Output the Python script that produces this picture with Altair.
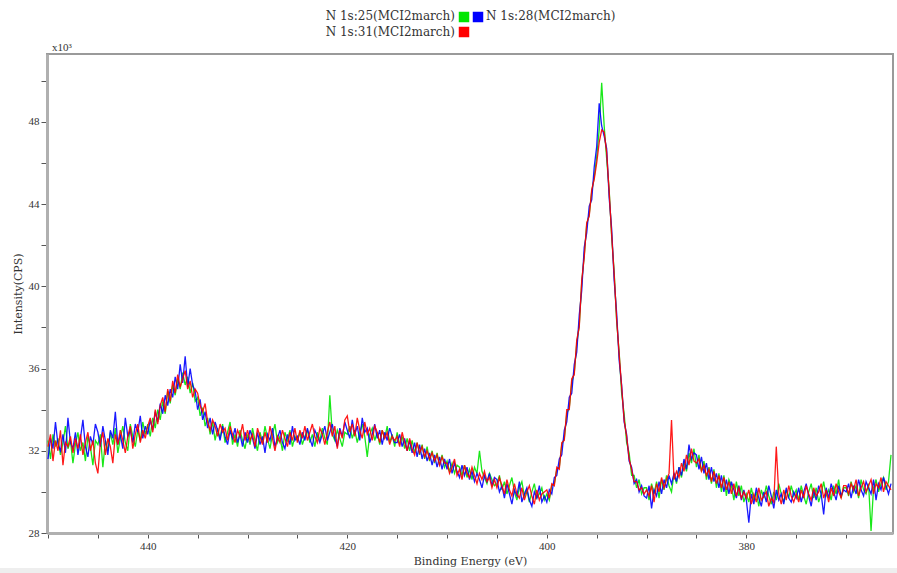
import altair as alt
import pandas as pd

SERIES = ["N 1s:25(MCI2march)", "N 1s:28(MCI2march)", "N 1s:31(MCI2march)"]
COLORS = ["#00e600", "#0000ff", "#ff0000"]

E_START, E_STEP = 450.0, 0.25  # binding energy grid (eV), high to low

# Intensities in units of 10^3 CPS (5 eV per row)
GREEN = [
    32.5, 31.6, 32.8, 32.2, 32.6, 31.8, 32.4, 33.2, 32.1, 32.5, 31.4, 32.3, 32.9, 32.0, 32.4, 31.5, 32.7, 32.2, 31.3, 32.5,
    32.3, 32.8, 31.2, 32.5, 32.0, 32.9, 32.3, 33.1, 31.9, 32.6, 33.2, 32.4, 32.0, 33.3, 32.7, 32.2, 33.0, 32.5, 33.4, 32.8,
    33.3, 32.7, 33.6, 33.1, 34.0, 33.5, 34.4, 33.8, 34.9, 34.3, 35.2, 34.7, 35.5, 35.0, 35.8, 35.2, 35.6, 34.8, 35.3, 34.4,
    34.6, 33.7, 34.1, 33.2, 33.6, 32.8, 33.4, 32.5, 33.1, 32.6, 33.3, 32.4, 32.9, 33.4, 32.3, 32.8, 32.2, 33.0, 32.5, 32.1,
    32.8, 32.3, 33.1, 32.5, 32.0, 32.9, 32.4, 33.2, 32.6, 32.1, 32.8, 33.3, 32.4, 32.7, 32.0, 32.9, 32.5, 33.0, 32.2, 32.7,
    32.5, 32.9, 32.3, 32.7, 33.0, 32.4, 32.8, 32.2, 32.9, 32.5, 33.1, 32.6, 32.3, 34.7, 32.8, 32.5, 33.0, 32.6, 32.2, 32.9,
    32.8, 33.2, 32.6, 33.0, 32.4, 32.9, 33.3, 32.7, 31.7, 32.8, 33.1, 32.5, 32.9, 32.3, 33.0, 32.6, 33.2, 32.4, 32.8, 32.2,
    32.9, 32.3, 32.7, 32.1, 32.6, 32.0, 32.5, 31.9, 32.4, 31.8, 32.3, 31.6, 32.2, 31.5, 32.0, 31.4, 31.9, 31.3, 31.8, 31.2,
    31.5, 31.0, 31.4, 30.9, 31.3, 31.2, 30.8, 31.3, 30.7, 31.1, 30.6, 31.2, 30.9, 32.0, 31.0, 30.7, 30.4, 30.9, 30.6, 30.3,
    30.4, 30.8, 30.1, 30.5, 29.9, 30.3, 30.7, 30.0, 29.6, 30.2, 30.5, 29.8, 30.1, 29.5, 30.0, 30.4, 29.7, 29.9, 30.2, 29.6,
    29.9, 29.6, 30.3, 30.4, 31.1, 31.2, 32.3, 32.6, 33.8, 34.1, 35.3, 35.8, 37.2, 38.1, 40.2, 41.5, 43.0, 43.5, 44.6, 45.3,
    46.3, 47.6, 49.9, 47.8, 46.2, 44.7, 42.4, 40.7, 38.3, 36.8, 34.8, 33.8, 32.4, 31.9, 30.8, 30.8, 30.2, 30.6, 29.9, 30.2,
    30.2, 29.6, 30.4, 29.9, 30.5, 29.7, 30.6, 30.1, 30.8, 30.3, 30.0, 30.9, 30.4, 31.2, 30.7, 31.5, 31.0, 31.9, 31.4, 32.1,
    31.2, 31.8, 31.0, 31.5, 30.6, 31.2, 30.4, 31.1, 30.2, 30.9, 30.0, 30.8, 29.8, 30.6, 30.3, 29.6, 30.5, 29.8, 30.3, 29.5,
    29.9, 29.5, 30.2, 29.6, 30.0, 29.3, 30.1, 29.7, 30.3, 29.8, 29.4, 30.0, 29.6, 30.4, 29.9, 29.5, 30.1, 29.7, 30.3, 29.8,
    30.1, 29.6, 30.3, 29.8, 29.4, 30.0, 30.4, 29.7, 30.2, 29.5, 29.9, 30.5, 29.8, 30.1, 29.6, 30.3, 29.9, 30.6, 29.7, 30.2,
    30.2, 29.8, 30.5, 30.0, 30.3, 29.7, 30.6, 30.1, 29.9, 30.4, 28.1, 30.2, 30.6, 30.0, 30.4, 30.7, 30.1, 30.5, 31.8,
]
BLUE = [
    31.6, 32.6, 32.1, 33.4, 32.3, 32.0, 32.8, 31.9, 33.6, 32.4, 32.1, 32.9, 31.8, 32.6, 33.5, 32.2, 31.7, 32.7, 32.3, 33.3,
    32.9, 32.2, 33.2, 32.5, 31.8, 33.0, 32.6, 33.9, 32.3, 32.8, 32.1, 33.6, 32.7, 33.0, 32.4, 33.3, 32.9, 33.7, 32.6, 33.2,
    32.8, 33.5, 33.0, 33.9, 33.4, 34.3, 33.8, 34.7, 34.2, 35.0, 34.6, 35.6, 35.0, 36.2, 35.3, 36.6, 35.1, 36.0, 35.2, 34.9,
    34.0, 34.5, 33.5, 33.9, 33.1, 33.6, 32.8, 33.4, 33.0, 32.5, 33.2, 32.7, 32.3, 33.0, 32.6, 33.1, 32.4, 32.8, 32.2, 32.9,
    32.4, 33.0, 32.6, 32.1, 32.9, 32.3, 32.7, 31.9, 32.8, 32.5, 33.1, 32.2, 32.6, 33.0, 32.4, 32.1, 32.8, 32.3, 33.2, 32.5,
    32.7, 32.3, 32.9, 32.5, 33.1, 32.6, 32.2, 33.0, 32.7, 32.4, 32.8, 33.2, 32.5, 32.9, 33.3, 32.6, 32.2, 33.1, 32.7, 33.4,
    33.0, 32.6, 33.5, 32.8, 33.2, 32.5, 33.6, 32.9, 33.1, 32.4, 32.8, 33.3, 32.6, 33.0, 32.3, 32.9, 32.5, 33.1, 32.7, 32.4,
    32.4, 32.8, 32.2, 32.6, 32.0, 32.5, 31.9, 32.4, 31.7, 32.3, 31.6, 32.1, 31.5, 31.9, 31.3, 31.8, 31.2, 31.7, 31.1, 31.6,
    31.1, 31.6, 30.9, 31.4, 31.0, 30.7, 31.3, 30.8, 31.2, 30.6, 31.0, 30.5, 30.9, 30.6, 30.2, 30.8, 30.5, 30.9, 30.3, 30.7,
    30.6, 30.0, 30.3, 29.7, 30.4, 29.9, 29.4, 30.1, 29.8, 30.5, 29.5, 29.9, 30.2, 29.6, 29.3, 30.0, 29.7, 30.3, 29.5, 29.8,
    29.5, 30.1, 29.9, 30.7, 30.8, 31.6, 31.8, 33.0, 33.4, 34.6, 34.8, 36.2, 36.8, 38.6, 39.8, 41.9, 42.6, 43.9, 44.2, 45.8,
    46.8, 48.9, 47.8, 47.3, 46.7, 44.3, 42.8, 40.3, 38.7, 36.4, 35.2, 33.4, 32.8, 31.5, 31.2, 30.4, 30.6, 30.0, 30.3, 29.8,
    29.7, 30.3, 29.2, 30.1, 29.8, 30.5, 29.9, 30.6, 30.2, 30.8, 30.4, 30.9, 30.5, 31.2, 30.8, 31.6, 31.1, 32.3, 31.6, 31.9,
    31.8, 31.1, 31.7, 30.9, 31.4, 30.6, 31.2, 30.5, 30.9, 30.2, 30.8, 30.0, 30.6, 29.9, 30.5, 30.1, 29.7, 30.3, 29.6, 30.1,
    29.6, 28.5, 29.9, 29.4, 30.2, 29.7, 29.3, 30.0, 29.5, 30.3, 29.8, 29.2, 30.1, 29.6, 29.9, 29.4, 30.2, 29.7, 29.5, 30.0,
    29.7, 30.2, 29.5, 30.0, 30.4, 29.8, 29.3, 30.1, 29.6, 30.3, 29.9, 28.9, 30.2, 29.7, 30.4, 30.0, 29.6, 30.3, 29.8, 30.1,
    30.0, 30.4, 29.7, 30.3, 29.9, 30.6, 30.1, 29.8, 30.5, 30.2, 29.9, 30.6, 29.6, 30.4, 30.1, 30.7, 30.3, 29.9, 30.4,
]
RED = [
    32.2, 32.8, 31.5, 32.5, 32.0, 33.0, 31.3, 32.4, 32.2, 32.7, 31.9, 32.6, 32.1, 32.8, 31.8, 32.4, 32.9, 32.0, 32.5, 31.4,
    30.9, 32.4, 32.9, 31.8, 32.6, 32.2, 31.4, 32.8, 32.3, 33.0, 32.5, 31.9, 32.7, 33.2, 32.1, 32.8, 33.3, 32.4, 33.0, 32.6,
    33.2, 33.6, 32.9, 34.0, 33.3, 34.2, 34.6, 33.9, 35.0, 34.4, 35.4, 34.8, 35.7, 35.1, 35.5, 35.9, 35.0, 35.4, 34.6, 35.0,
    34.8, 34.2, 33.9, 34.3, 33.4, 33.0, 33.5, 33.2, 32.7, 33.3, 32.9, 33.1, 32.5, 33.2, 32.8, 32.4, 33.0, 32.7, 33.3, 32.5,
    33.0, 32.5, 32.8, 32.2, 33.1, 32.7, 32.3, 32.9, 32.4, 33.2, 32.6, 32.0, 32.7, 32.4, 33.0, 32.6, 32.2, 32.9, 32.5, 33.1,
    32.4, 33.0, 32.6, 33.2, 32.5, 32.9, 33.3, 32.7, 32.4, 33.1, 32.8, 32.3, 32.9, 33.4, 32.7, 33.2, 32.1, 33.0, 32.6, 33.5,
    33.7, 32.9, 33.3, 32.7, 33.6, 33.0, 32.6, 33.4, 32.8, 33.1, 32.5, 33.2, 32.9, 32.4, 33.0, 32.6, 32.9, 32.3, 32.7, 32.5,
    32.7, 32.2, 32.9, 32.4, 32.0, 32.6, 32.1, 31.8, 32.4, 31.9, 32.2, 31.7, 32.0, 31.6, 31.9, 31.5, 31.8, 31.3, 31.7, 31.4,
    31.4, 30.9, 31.2, 31.6, 30.8, 31.1, 30.6, 31.3, 30.9, 30.7, 31.2, 30.8, 30.4, 30.9, 30.6, 31.0, 30.5, 30.7, 30.2, 30.6,
    30.2, 30.7, 30.3, 29.9, 30.6, 30.1, 29.8, 30.4, 29.9, 29.7, 30.2, 29.6, 30.0, 30.3, 29.8, 29.4, 30.1, 29.6, 29.9, 30.0,
    30.1, 29.7, 30.4, 30.3, 31.2, 31.1, 32.4, 32.5, 34.0, 34.0, 35.5, 35.7, 37.4, 38.0, 40.3, 41.4, 43.1, 43.4, 44.7, 45.2,
    46.0, 47.0, 47.6, 47.5, 46.5, 44.6, 42.5, 40.6, 38.4, 36.7, 35.1, 33.5, 32.7, 31.6, 31.1, 30.5, 30.5, 30.1, 30.2, 29.9,
    30.1, 29.8, 30.3, 29.5, 30.4, 30.0, 30.7, 30.2, 30.6, 30.9, 33.5, 30.6, 31.0, 30.7, 31.4, 31.0, 31.8, 31.3, 32.1, 31.5,
    31.4, 31.6, 31.0, 31.3, 30.8, 31.1, 30.5, 31.0, 30.4, 30.8, 30.2, 30.7, 30.1, 30.5, 29.9, 30.4, 29.8, 30.2, 29.7, 30.0,
    29.7, 30.1, 29.4, 29.9, 29.5, 30.2, 29.6, 29.8, 30.0, 29.3, 29.7, 29.5, 32.2, 29.9, 29.4, 30.1, 29.6, 30.3, 29.8, 29.5,
    29.9, 29.5, 30.1, 29.7, 30.3, 29.9, 29.6, 30.2, 29.8, 30.0, 30.4, 29.7, 30.1, 29.5, 30.2, 29.8, 30.4, 30.0, 29.7, 30.3,
    30.3, 29.9, 30.4, 30.1, 30.6, 29.8, 30.2, 30.5, 30.0, 30.3, 30.6, 29.9, 30.4, 30.2, 30.7, 30.0, 30.5, 30.3, 30.1,
]

X_TICKS = [450, 445, 440, 435, 430, 425, 420, 415, 410, 405, 400, 395, 390, 385, 380, 375, 370]
Y_TICKS = [28, 30, 32, 34, 36, 38, 40, 42, 44, 46, 48, 50]

ENERGY = [round(E_START - E_STEP * i, 2) for i in range(len(GREEN))]

TICK_FONT = "Liberation Serif"
FONT = "DejaVu Serif"
TXT = "#333333"

x_enc = alt.X(
    "energy:Q",
    scale=alt.Scale(domain=[365.3, 450.1], reverse=True, nice=False, zero=False),
    axis=alt.Axis(
        title="Binding Energy (eV)", values=X_TICKS,
        labelExpr="datum.value % 20 === 0 ? datum.label : ''",
        tickSize=5, labelPadding=2, titlePadding=4, format="d",
    ),
)
y_enc = alt.Y(
    "intensity:Q",
    scale=alt.Scale(domain=[28, 51.3], nice=False, zero=False),
    axis=alt.Axis(
        title="Intensity(CPS)", values=Y_TICKS,
        labelExpr="datum.value % 4 === 0 ? datum.label : ''",
        tickSize=6, labelPadding=2, titleX=-24, format="d",
    ),
)

layers = []
for name, vals, col in zip(SERIES, [GREEN, BLUE, RED], COLORS):
    df = pd.DataFrame({"energy": ENERGY, "intensity": vals, "series": name})
    layers.append(
        alt.Chart(df).mark_line(color=col, strokeWidth=1.3, opacity=0.9, clip=True)
        .encode(x=x_enc, y=y_enc)
    )

one = pd.DataFrame({"k": [0]})

# legend (text followed by colour squares, as in the original)
leg = []
leg.append(alt.Chart(pd.DataFrame({"t": [SERIES[0]]})).mark_text(
    align="right", baseline="middle", font=FONT, fontSize=12, color=TXT
).encode(x=alt.value(408), y=alt.value(-38), text="t:N"))
leg.append(alt.Chart(pd.DataFrame({"t": [SERIES[1]]})).mark_text(
    align="left", baseline="middle", font=FONT, fontSize=12, color=TXT
).encode(x=alt.value(439), y=alt.value(-38), text="t:N"))
leg.append(alt.Chart(pd.DataFrame({"t": [SERIES[2]]})).mark_text(
    align="right", baseline="middle", font=FONT, fontSize=12, color=TXT
).encode(x=alt.value(408), y=alt.value(-22), text="t:N"))
for cx, cy, col in [(417, -37, COLORS[0]), (431, -37, COLORS[1]), (417, -22, COLORS[2])]:
    leg.append(alt.Chart(one).mark_square(size=110, opacity=1).encode(
        x=alt.value(cx), y=alt.value(cy), color=alt.value(col)))

mult = alt.Chart(one).mark_text(
    align="left", baseline="bottom", font=TICK_FONT, fontSize=11, color=TXT
).encode(x=alt.value(5), y=alt.value(-1), text=alt.value("x10\u00b3"))

strip = alt.Chart(one).mark_rect(color="#eeeeee").encode(
    x=alt.value(-47), x2=alt.value(850), y=alt.value(514), y2=alt.value(519))

chart = alt.layer(strip, *layers, *leg, mult).properties(
    width=846, height=479,
    padding={"left": 47, "top": 54, "right": 4, "bottom": 40},
    autosize=alt.AutoSizeParams(type="none"),
).configure_view(
    stroke="#9a9a9a", strokeWidth=2
).configure_axis(
    grid=False, domainColor="#b0b0b0", domainWidth=3, tickColor="#555555",
    labelFont=TICK_FONT, labelFontSize=11, labelColor=TXT,
    titleFont=FONT, titleFontSize=11, titleFontWeight="normal", titleColor=TXT,
)

chart.save("out.html", embed_options={"renderer": "svg", "actions": False})
